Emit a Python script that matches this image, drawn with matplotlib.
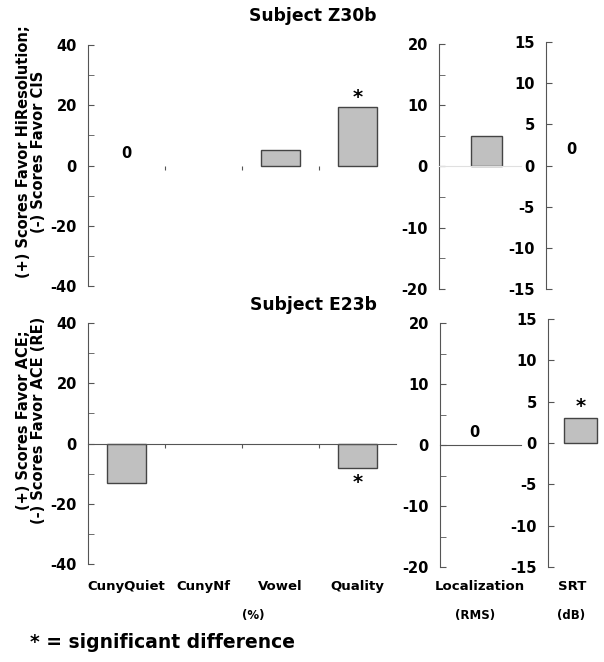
import matplotlib.pyplot as plt

plt.rcParams['font.family'] = ['DejaVu Sans']
plt.rcParams['font.weight'] = 'bold'
plt.rcParams['axes.unicode_minus'] = False

# datos
categorias = ["CunyQuiet", "CunyNf", "Vowel", "Quality"]
z30b_pct = [0, 0, 5, 19.3]
z30b_loc = [5]
z30b_srt = [0]
e23b_pct = [-13, 0, 0, -8.2]
e23b_loc = [0]
e23b_srt = [3]

W, H = 604, 662
fig = plt.figure(figsize=(W / 100, H / 100), dpi=100)


def px(x0, y0, x1, y1):
    # caja en pixeles -> fraccion de figura
    return [x0 / W, 1 - y1 / H, (x1 - x0) / W, (y1 - y0) / H]


def estilo(ax, lim, mayor, menor, cero_color):
    ax.set_ylim(-lim, lim)
    ax.set_yticks(range(-lim, lim + 1, mayor))
    ax.set_yticks(range(-lim, lim + 1, menor), minor=True)
    for s in ["top", "right"]:
        ax.spines[s].set_visible(False)
    ax.spines["left"].set_color("#555555")
    ax.spines["bottom"].set_position(("data", 0))
    ax.spines["bottom"].set_color(cero_color)
    ax.tick_params(axis="y", which="both", direction="in", length=4, color="#555555",
                   pad=8, labelsize=10.5)
    ax.patch.set_alpha(0)


def barras(ax, x, vals, ancho):
    ax.bar(x, vals, width=ancho, color="#c0c0c0", edgecolor="#444444", linewidth=1)


pos = list(range(len(categorias)))

# panel principal (%)
ax1 = fig.add_axes(px(88, 45, 396, 286))
ax2 = fig.add_axes(px(88, 323, 396, 564))
for ax, vals in [(ax1, z30b_pct), (ax2, e23b_pct)]:
    barras(ax, [p for p, v in zip(pos, vals) if v != 0], [v for v in vals if v != 0], 0.5)
    ax.set_xlim(-0.5, 3.5)
    estilo(ax, 40, 20, 10, "none" if ax is ax1 else "#555555")
    ax.set_xticks([0.5, 1.5, 2.5])
    ax.set_xticklabels([])
    ax.tick_params(axis="x", direction="out", length=3, color="#555555")
for i, c in enumerate(categorias):
    ax2.text(i, -0.095, c, transform=ax2.get_xaxis_transform(), ha="center", va="center",
             fontsize=9.5)

ax1.text(0, 4, "0", ha="center", va="center", fontsize=10.5)
ax1.text(3, 22.5, "*", ha="center", va="center", fontsize=14)
ax2.text(3, -12.8, "*", ha="center", va="center", fontsize=14)

# Localization
ax3 = fig.add_axes(px(439, 44, 521, 289))
ax4 = fig.add_axes(px(440, 323, 521, 567))
for ax, vals, col in [(ax3, z30b_loc, "#e0e0e0"), (ax4, e23b_loc, "#555555")]:
    if vals[0] != 0:
        barras(ax, [0], vals, 0.38)
    ax.set_xlim(-0.58, 0.42)
    estilo(ax, 20, 10, 5, col)
    ax.set_xticks([])
ax4.text(-0.16, 2.1, "0", ha="center", va="center", fontsize=10.5)

# SRT
ax5 = fig.add_axes(px(546, 42, 604, 289))
ax6 = fig.add_axes(px(548, 319, 604, 567))
for ax, vals in [(ax5, z30b_srt), (ax6, e23b_srt)]:
    if vals[0] != 0:
        barras(ax, [0], vals, 0.58)
    ax.set_xlim(-0.58, 0.42)
    estilo(ax, 15, 5, 5, "none")
    ax.set_xticks([])
ax5.text(-0.15, 1.9, "0", ha="center", va="center", fontsize=10.5)
ax6.text(0, 4.4, "*", ha="center", va="center", fontsize=14)

# textos
fig.text(313 / W, 1 - 16 / H, "Subject Z30b", ha="center", va="center", fontsize=12.3)
fig.text(313 / W, 1 - 305 / H, "Subject E23b", ha="center", va="center", fontsize=12.3)
fig.text(31 / W, 1 - 152 / H, "(+) Scores Favor HiResolution;\n(-) Scores Favor CIS",
         rotation=90, ha="center", va="center", multialignment="center", fontsize=10.5,
         linespacing=1.0)
fig.text(31 / W, 1 - 420 / H, "(+) Scores Favor ACE;\n(-) Scores Favor ACE (RE)",
         rotation=90, ha="center", va="center", multialignment="center", fontsize=10.5,
         linespacing=1.0)
fig.text(480 / W, 1 - 587 / H, "Localization", ha="center", va="center", fontsize=9.5)
fig.text(572 / W, 1 - 587 / H, "SRT", ha="center", va="center", fontsize=9.5)
fig.text(253 / W, 1 - 615 / H, "(%)", ha="center", va="center", fontsize=8.5)
fig.text(475 / W, 1 - 615 / H, "(RMS)", ha="center", va="center", fontsize=8.5)
fig.text(571 / W, 1 - 615 / H, "(dB)", ha="center", va="center", fontsize=8.5)
fig.text(30 / W, 1 - 642 / H, "* = significant difference", ha="left", va="center",
         fontsize=13.5)

fig.savefig("out.png", dpi=100)
